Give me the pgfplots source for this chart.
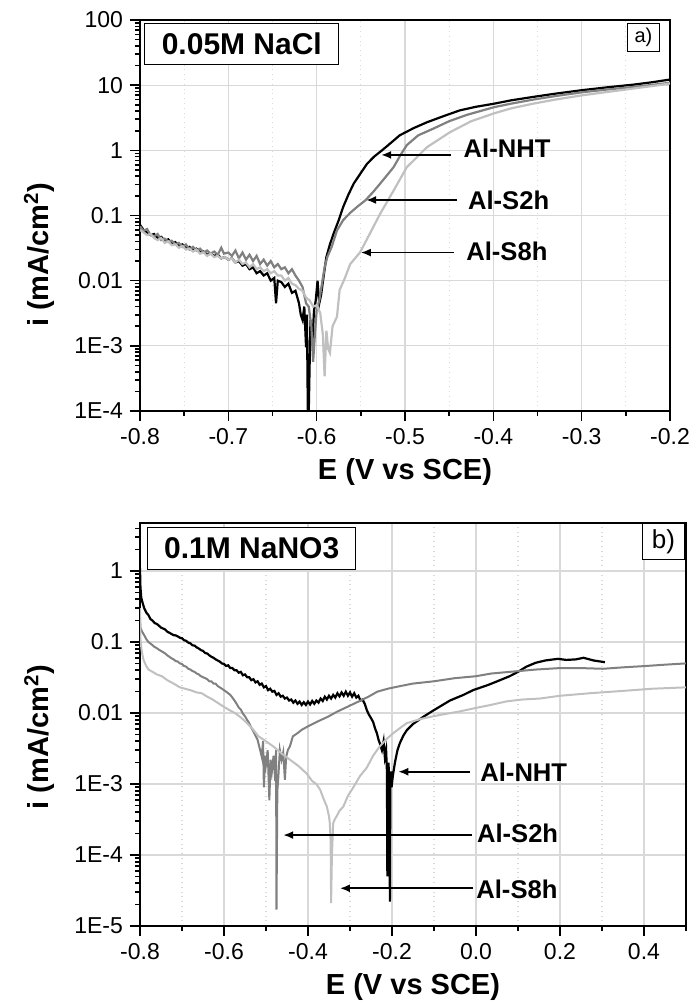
\documentclass[border=0pt]{standalone}
\usepackage{fontspec}
\setmainfont{Liberation Sans}
\usepackage{pgfplots}
\pgfplotsset{compat=1.18}
\usetikzlibrary{arrows.meta}

\definecolor{cNHT}{RGB}{0,0,0}
\definecolor{cS2}{RGB}{128,128,128}
\definecolor{cS8}{RGB}{192,192,192}

\tikzset{
  ann/.style={font=\bfseries\fontsize{12.8}{14}\selectfont, anchor=west, inner sep=0pt},
  arr/.style={-{Latex[length=5pt,width=4pt]}, line width=0.9pt, black},
}
\pgfplotsset{
  tafel/.style={
    scale only axis,
    tick align=outside,
    tick pos=left,
    axis line style={line width=1pt},
    major tick length=5pt,
    minor tick length=2.5pt,
    every tick/.append style={black, line width=0.8pt},
    xmajorgrids, ymajorgrids, xminorgrids,
    major grid style={gray!30, line width=0.6pt},
    minor grid style={gray!30, dotted, line width=0.6pt},
    tick label style={font=\fontsize{11.5}{13}\selectfont},
    x label style={font=\bfseries\fontsize{14.5}{16}\selectfont},
    every axis y label/.style={rotate=90, anchor=center,
      font=\bfseries\fontsize{14.5}{16}\selectfont},
  },
}

\begin{document}
\begin{tikzpicture}
\useasboundingbox (0,0) rectangle (348.5pt,504pt);

% ---------------- a) 0.05M NaCl ----------------
\begin{axis}[tafel, ymode=log,
  /pgf/number format/assume math mode=true,
  at={(70pt,298.5pt)}, anchor=south west,
  width=265pt, height=195.5pt,
  xmin=-0.8, xmax=-0.2, ymin=1e-4, ymax=100,
  xtick={-0.8,-0.7,-0.6,-0.5,-0.4,-0.3,-0.2},
  xticklabels={-0.8,-0.7,-0.6,-0.5,-0.4,-0.3,-0.2},
  minor xtick={-0.75,-0.65,-0.55,-0.45,-0.35,-0.25},
  ytick={1e-4,1e-3,0.01,0.1,1,10,100},
  yticklabels={1E-4,1E-3,0.01,0.1,1,10,100},
  minor ytick={2e-4,3e-4,4e-4,5e-4,6e-4,7e-4,8e-4,9e-4,
    2e-3,3e-3,4e-3,5e-3,6e-3,7e-3,8e-3,9e-3,
    0.02,0.03,0.04,0.05,0.06,0.07,0.08,0.09,
    0.2,0.3,0.4,0.5,0.6,0.7,0.8,0.9,
    2,3,4,5,6,7,8,9,20,30,40,50,60,70,80,90},
  xlabel={E (V vs SCE)},
  ylabel={i (mA/cm\textsuperscript{2})},
  x label style={at={(axis description cs:0.5,-0.156)}, anchor=center},
  y label style={at={(axis description cs:-0.19,0.40)}},
]
% Al-NHT
\addplot[cNHT, line width=1.1pt] coordinates {
(-0.800,0.072) (-0.796,0.060) (-0.792,0.055) (-0.788,0.050) (-0.784,0.052)
(-0.780,0.045) (-0.776,0.047) (-0.772,0.041) (-0.768,0.043) (-0.764,0.037)
(-0.760,0.039) (-0.756,0.034) (-0.752,0.036) (-0.748,0.031) (-0.744,0.033)
(-0.740,0.029) (-0.736,0.031) (-0.732,0.027) (-0.728,0.028) (-0.724,0.025)
(-0.720,0.026) (-0.716,0.024) (-0.712,0.025) (-0.708,0.022) (-0.704,0.023)
(-0.700,0.021) (-0.696,0.022) (-0.692,0.019) (-0.688,0.020) (-0.684,0.017)
(-0.680,0.018) (-0.676,0.015) (-0.672,0.016) (-0.668,0.013) (-0.664,0.014)
(-0.660,0.012) (-0.656,0.013) (-0.652,0.010) (-0.648,0.011) (-0.646,0.0045)
(-0.644,0.010) (-0.640,0.0095) (-0.636,0.0080) (-0.632,0.0090) (-0.628,0.0065)
(-0.624,0.0070) (-0.620,0.0045) (-0.618,0.0030) (-0.616,0.0025) (-0.614,0.0040)
(-0.612,0.00095) (-0.611,0.0030) (-0.610,0.00009) (-0.609,0.00009) (-0.607,0.0025)
(-0.605,0.0010) (-0.603,0.0035) (-0.601,0.0050) (-0.599,0.0100) (-0.597,0.0045)
(-0.595,0.0060) (-0.592,0.012) (-0.589,0.023) (-0.585,0.036) (-0.581,0.052)
(-0.575,0.085) (-0.570,0.135) (-0.564,0.21) (-0.558,0.31) (-0.550,0.45)
(-0.543,0.62) (-0.535,0.80) (-0.526,1.00) (-0.516,1.30) (-0.506,1.70)
(-0.490,2.20) (-0.475,2.70) (-0.455,3.40) (-0.438,4.10) (-0.420,4.65)
(-0.399,5.20) (-0.380,5.85) (-0.355,6.60) (-0.330,7.40) (-0.299,8.40)
(-0.270,9.30) (-0.241,10.2) (-0.220,11.1) (-0.200,12.2)
};
% Al-S2h
\addplot[cS2, line width=1.1pt] coordinates {
(-0.800,0.068) (-0.796,0.058) (-0.792,0.062) (-0.788,0.050) (-0.784,0.048)
(-0.780,0.052) (-0.776,0.042) (-0.772,0.044) (-0.768,0.040) (-0.764,0.041)
(-0.760,0.036) (-0.756,0.038) (-0.752,0.033) (-0.748,0.036) (-0.744,0.030)
(-0.740,0.033) (-0.736,0.029) (-0.732,0.031) (-0.728,0.027) (-0.724,0.029)
(-0.720,0.026) (-0.716,0.028) (-0.712,0.025) (-0.708,0.032) (-0.705,0.026)
(-0.700,0.027) (-0.696,0.024) (-0.692,0.029) (-0.688,0.022) (-0.684,0.027)
(-0.680,0.021) (-0.676,0.025) (-0.672,0.020) (-0.668,0.024) (-0.664,0.018)
(-0.660,0.021) (-0.656,0.017) (-0.652,0.020) (-0.648,0.016) (-0.644,0.018)
(-0.640,0.015) (-0.636,0.016) (-0.632,0.013) (-0.628,0.015) (-0.624,0.012)
(-0.620,0.010) (-0.616,0.008) (-0.612,0.0045) (-0.609,0.0040) (-0.606,0.0020)
(-0.604,0.00057) (-0.602,0.0015) (-0.600,0.0035) (-0.597,0.0050) (-0.594,0.0090)
(-0.591,0.016) (-0.588,0.023) (-0.583,0.033) (-0.577,0.059) (-0.570,0.085)
(-0.562,0.11) (-0.553,0.14) (-0.545,0.17) (-0.536,0.23) (-0.528,0.31)
(-0.520,0.42) (-0.513,0.55) (-0.505,0.85) (-0.498,1.20) (-0.485,1.70)
(-0.468,2.15) (-0.450,2.80) (-0.430,3.50) (-0.399,4.60) (-0.380,5.20)
(-0.355,6.00) (-0.330,6.80) (-0.299,7.80) (-0.270,8.60) (-0.241,9.40)
(-0.220,10.1) (-0.200,10.9)
};
% Al-S8h
\addplot[cS8, line width=1.1pt] coordinates {
(-0.800,0.060) (-0.796,0.055) (-0.792,0.050) (-0.788,0.052) (-0.784,0.045)
(-0.780,0.042) (-0.776,0.045) (-0.772,0.038) (-0.768,0.040) (-0.764,0.035)
(-0.760,0.036) (-0.756,0.032) (-0.752,0.034) (-0.748,0.030) (-0.744,0.031)
(-0.740,0.028) (-0.736,0.030) (-0.732,0.026) (-0.728,0.027) (-0.724,0.024)
(-0.720,0.026) (-0.716,0.023) (-0.712,0.024) (-0.708,0.022) (-0.704,0.023)
(-0.700,0.021) (-0.696,0.022) (-0.692,0.019) (-0.688,0.021) (-0.684,0.018)
(-0.680,0.019) (-0.676,0.016) (-0.672,0.018) (-0.668,0.015) (-0.664,0.016)
(-0.660,0.014) (-0.656,0.015) (-0.652,0.013) (-0.648,0.014) (-0.644,0.012)
(-0.640,0.012) (-0.636,0.010) (-0.632,0.011) (-0.628,0.0090) (-0.624,0.0085)
(-0.620,0.0075) (-0.616,0.0070) (-0.612,0.0055) (-0.608,0.0050) (-0.604,0.0040)
(-0.600,0.0042) (-0.596,0.0032) (-0.593,0.0015) (-0.591,0.00034) (-0.589,0.0017)
(-0.587,0.0009) (-0.585,0.00078) (-0.582,0.0020) (-0.577,0.0028) (-0.574,0.0072)
(-0.568,0.011) (-0.562,0.018) (-0.551,0.027) (-0.540,0.052) (-0.528,0.107)
(-0.513,0.24) (-0.498,0.55) (-0.475,1.12) (-0.449,1.90) (-0.425,2.80)
(-0.399,3.70) (-0.380,4.40) (-0.355,5.20) (-0.330,6.00) (-0.299,7.00)
(-0.270,7.90) (-0.241,8.90) (-0.220,9.70) (-0.200,10.6)
};
\draw[arr] (axis cs:-0.448,0.85) -- (axis cs:-0.527,0.85);
\draw[arr] (axis cs:-0.441,0.173) -- (axis cs:-0.544,0.173);
\draw[arr] (axis cs:-0.445,0.027) -- (axis cs:-0.550,0.027);
\node[ann] at (axis cs:-0.434,1.07) {Al-NHT};
\node[ann] at (axis cs:-0.429,0.173) {Al-S2h};
\node[ann] at (axis cs:-0.431,0.0277) {Al-S8h};
\node[draw, fill=white, line width=0.6pt, anchor=north west,
  minimum width=97pt, minimum height=20.5pt, inner sep=0pt,
  font=\bfseries\fontsize{15}{16}\selectfont] at (rel axis cs:0.008,0.992) {0.05M NaCl};
\node[draw, fill=white, line width=0.5pt, anchor=north east,
  minimum width=16pt, minimum height=14pt, inner sep=0pt,
  font=\fontsize{10}{11}\selectfont] at (rel axis cs:0.981,0.992) {a)};
\end{axis}

% ---------------- b) 0.1M NaNO3 ----------------
\begin{axis}[tafel, ymode=log,
  /pgf/number format/assume math mode=true,
  at={(70pt,41pt)}, anchor=south west,
  width=273pt, height=201.5pt,
  xmin=-0.8, xmax=0.5, ymin=1e-5, ymax=4.75,
  xtick={-0.8,-0.6,-0.4,-0.2,0,0.2,0.4},
  xticklabels={-0.8,-0.6,-0.4,-0.2,0.0,0.2,0.4},
  minor xtick={-0.7,-0.5,-0.3,-0.1,0.1,0.3,0.5},
  ytick={1e-5,1e-4,1e-3,0.01,0.1,1},
  yticklabels={1E-5,1E-4,1E-3,0.01,0.1,1},
  minor ytick={2e-5,3e-5,4e-5,5e-5,6e-5,7e-5,8e-5,9e-5,
    2e-4,3e-4,4e-4,5e-4,6e-4,7e-4,8e-4,9e-4,
    2e-3,3e-3,4e-3,5e-3,6e-3,7e-3,8e-3,9e-3,
    0.02,0.03,0.04,0.05,0.06,0.07,0.08,0.09,
    0.2,0.3,0.4,0.5,0.6,0.7,0.8,0.9,2,3,4},
  xlabel={E (V vs SCE)},
  ylabel={i (mA/cm\textsuperscript{2})},
  x label style={at={(axis description cs:0.5,-0.151)}, anchor=center},
  y label style={at={(axis description cs:-0.184,0.469)}},
]
% Al-NHT
\addplot[cNHT, line width=1.1pt] coordinates {
(-0.800,1.10) (-0.799,0.60) (-0.797,0.42) (-0.794,0.36) (-0.790,0.30)
(-0.785,0.26) (-0.780,0.24) (-0.775,0.21) (-0.770,0.20) (-0.765,0.185)
(-0.760,0.18) (-0.755,0.17) (-0.750,0.16) (-0.745,0.155) (-0.740,0.15)
(-0.735,0.14) (-0.730,0.135) (-0.725,0.13) (-0.720,0.125) (-0.715,0.124)
(-0.710,0.12) (-0.705,0.115) (-0.700,0.113) (-0.695,0.106) (-0.690,0.104)
(-0.685,0.098) (-0.680,0.096) (-0.675,0.090) (-0.670,0.089) (-0.665,0.084)
(-0.660,0.081) (-0.655,0.077) (-0.650,0.075) (-0.645,0.070) (-0.640,0.069)
(-0.635,0.065) (-0.630,0.062) (-0.625,0.060) (-0.620,0.057) (-0.615,0.055)
(-0.610,0.053) (-0.605,0.050) (-0.600,0.049) (-0.595,0.046) (-0.590,0.047)
(-0.585,0.043) (-0.580,0.043) (-0.575,0.040) (-0.570,0.040) (-0.565,0.037)
(-0.560,0.038) (-0.555,0.034) (-0.550,0.035) (-0.545,0.032) (-0.540,0.032)
(-0.535,0.029) (-0.530,0.030) (-0.525,0.027) (-0.520,0.028) (-0.515,0.025)
(-0.510,0.026) (-0.505,0.023) (-0.500,0.024) (-0.495,0.021) (-0.490,0.022)
(-0.485,0.020) (-0.480,0.0205) (-0.475,0.018) (-0.470,0.019) (-0.465,0.017)
(-0.460,0.0175) (-0.455,0.016) (-0.450,0.0165) (-0.445,0.015) (-0.440,0.0155)
(-0.435,0.014) (-0.430,0.015) (-0.425,0.0135) (-0.420,0.0145) (-0.415,0.013)
(-0.410,0.0142) (-0.405,0.013) (-0.400,0.0145) (-0.395,0.0132) (-0.390,0.0148)
(-0.385,0.0135) (-0.380,0.015) (-0.375,0.014) (-0.370,0.016) (-0.365,0.0148)
(-0.360,0.017) (-0.355,0.0155) (-0.350,0.0175) (-0.345,0.016) (-0.340,0.018)
(-0.335,0.0165) (-0.330,0.019) (-0.325,0.0172) (-0.320,0.0195) (-0.315,0.0175)
(-0.310,0.020) (-0.305,0.0175) (-0.300,0.0195) (-0.295,0.017) (-0.290,0.019)
(-0.285,0.0165) (-0.280,0.0175) (-0.275,0.015) (-0.270,0.0155) (-0.265,0.0135)
(-0.260,0.011) (-0.255,0.0095) (-0.250,0.0085) (-0.245,0.0075) (-0.240,0.0060)
(-0.236,0.0052) (-0.232,0.0042) (-0.228,0.0036) (-0.224,0.0030) (-0.220,0.0040)
(-0.217,0.0024) (-0.214,0.0030) (-0.212,0.0015) (-0.211,0.00005) (-0.210,0.0020)
(-0.209,0.0001) (-0.208,0.0020) (-0.207,0.00008) (-0.206,0.0015) (-0.205,0.000022)
(-0.204,0.0010) (-0.202,0.0015) (-0.201,0.0009) (-0.198,0.0013) (-0.193,0.0020)
(-0.187,0.0030) (-0.181,0.0038) (-0.173,0.0048) (-0.165,0.0057) (-0.150,0.0070)
(-0.126,0.0088) (-0.100,0.0110) (-0.062,0.015) (-0.030,0.018) (-0.007,0.021)
(0.030,0.025) (0.057,0.029) (0.080,0.033) (0.100,0.038) (0.120,0.045)
(0.142,0.051) (0.165,0.055) (0.195,0.058) (0.215,0.056) (0.238,0.057)
(0.256,0.060) (0.280,0.055) (0.307,0.052)
};
% Al-S2h
\addplot[cS2, line width=1.0pt] coordinates {
(-0.800,0.22) (-0.799,0.16) (-0.795,0.14) (-0.790,0.125) (-0.785,0.11)
(-0.780,0.10) (-0.775,0.095) (-0.770,0.090) (-0.765,0.085) (-0.760,0.082)
(-0.755,0.078) (-0.750,0.075) (-0.745,0.072) (-0.740,0.069) (-0.735,0.065)
(-0.730,0.062) (-0.725,0.059) (-0.720,0.057) (-0.715,0.054) (-0.710,0.053)
(-0.705,0.050) (-0.700,0.049) (-0.695,0.046) (-0.690,0.045) (-0.685,0.042)
(-0.680,0.041) (-0.675,0.039) (-0.670,0.038) (-0.665,0.036) (-0.660,0.035)
(-0.655,0.033) (-0.650,0.032) (-0.645,0.031) (-0.640,0.030) (-0.635,0.028)
(-0.630,0.028) (-0.625,0.026) (-0.620,0.026) (-0.615,0.024) (-0.610,0.023)
(-0.605,0.022) (-0.600,0.021) (-0.595,0.020) (-0.590,0.019) (-0.585,0.018)
(-0.580,0.0165) (-0.575,0.015) (-0.570,0.0135) (-0.565,0.012) (-0.560,0.0112)
(-0.555,0.0098) (-0.550,0.0090) (-0.545,0.0080) (-0.540,0.0072) (-0.535,0.0062)
(-0.530,0.0055) (-0.525,0.0048) (-0.520,0.0042) (-0.515,0.0032) (-0.510,0.0024)
(-0.507,0.0040) (-0.505,0.0009) (-0.502,0.0025) (-0.500,0.0019) (-0.496,0.0030)
(-0.492,0.00059) (-0.489,0.0022) (-0.486,0.0015) (-0.482,0.0025) (-0.478,0.0011)
(-0.476,0.0030) (-0.475,0.000017) (-0.473,0.0008) (-0.471,0.00115) (-0.467,0.0030)
(-0.463,0.0022) (-0.459,0.0028) (-0.455,0.00115) (-0.452,0.0024) (-0.448,0.0030)
(-0.443,0.0034) (-0.436,0.0047) (-0.425,0.0052) (-0.415,0.0058) (-0.400,0.0065)
(-0.375,0.0077) (-0.352,0.0089) (-0.330,0.0105) (-0.304,0.0124) (-0.280,0.0145)
(-0.256,0.017) (-0.235,0.020) (-0.210,0.022) (-0.180,0.024) (-0.150,0.026)
(-0.100,0.028) (-0.050,0.031) (0.000,0.033) (0.036,0.036) (0.080,0.038)
(0.143,0.041) (0.200,0.043) (0.248,0.043) (0.302,0.042) (0.350,0.044)
(0.405,0.046) (0.450,0.048) (0.500,0.050)
};
% Al-S8h
\addplot[cS8, line width=1.0pt] coordinates {
(-0.800,0.30) (-0.799,0.11) (-0.796,0.075) (-0.792,0.057) (-0.786,0.047)
(-0.780,0.041) (-0.770,0.038) (-0.760,0.035) (-0.748,0.033) (-0.735,0.029)
(-0.720,0.026) (-0.705,0.023) (-0.693,0.022) (-0.680,0.021) (-0.665,0.0195)
(-0.653,0.019) (-0.640,0.017) (-0.627,0.0155) (-0.614,0.0138) (-0.600,0.0122)
(-0.587,0.011) (-0.574,0.010) (-0.558,0.0085) (-0.542,0.0069) (-0.530,0.0058)
(-0.518,0.0047) (-0.500,0.0040) (-0.483,0.0034) (-0.463,0.0027) (-0.443,0.0022)
(-0.423,0.0018) (-0.403,0.0014) (-0.390,0.0011) (-0.380,0.0010) (-0.371,0.00083)
(-0.362,0.00060) (-0.355,0.00048) (-0.350,0.00035) (-0.348,0.00028) (-0.346,0.00015)
(-0.345,0.000021) (-0.343,0.00010) (-0.340,0.00028) (-0.336,0.00032) (-0.332,0.00035)
(-0.325,0.00042) (-0.316,0.00048) (-0.305,0.00068) (-0.292,0.00090) (-0.276,0.0013)
(-0.260,0.0017) (-0.245,0.0025) (-0.229,0.0034) (-0.213,0.0043) (-0.197,0.0052)
(-0.180,0.0062) (-0.165,0.0072) (-0.130,0.0083) (-0.086,0.0094) (-0.040,0.0105)
(-0.003,0.0117) (0.035,0.0130) (0.073,0.0146) (0.110,0.0155) (0.152,0.016)
(0.200,0.0175) (0.271,0.019) (0.350,0.0205) (0.420,0.022) (0.500,0.023)
};
\draw[arr] (axis cs:-0.014,0.00149) -- (axis cs:-0.185,0.00149);
\draw[arr] (axis cs:-0.010,1.91e-4) -- (axis cs:-0.459,1.91e-4);
\draw[arr] (axis cs:-0.006,3.4e-5) -- (axis cs:-0.324,3.4e-5);
\node[ann] at (axis cs:0.0095,0.00149) {Al-NHT};
\node[ann] at (axis cs:0.0016,2.0e-4) {Al-S2h};
\node[ann] at (axis cs:0.000,3.3e-5) {Al-S8h};
\node[draw, fill=white, line width=0.6pt, anchor=north west,
  minimum width=104pt, minimum height=21pt, inner sep=0pt,
  font=\bfseries\fontsize{15}{16}\selectfont] at (rel axis cs:0.013,0.99) {0.1M NaNO3};
\node[draw, fill=white, line width=0.5pt, anchor=north east,
  minimum width=21pt, minimum height=18pt, inner sep=0pt,
  font=\fontsize{13}{14}\selectfont] at (rel axis cs:0.998,1.0) {b)};
\end{axis}
\end{tikzpicture}
\end{document}
